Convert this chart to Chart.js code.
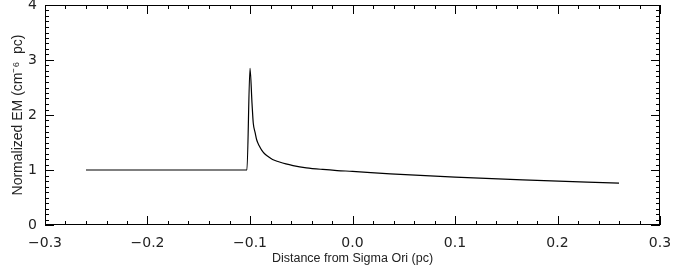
<!DOCTYPE html>
<html><head><meta charset="utf-8">
<script src="https://cdn.jsdelivr.net/npm/chart.js@4"></script>
<style>html,body{margin:0;padding:0;background:#fff}#wrap{width:673px;height:275px}</style>
</head><body><div id="wrap"><canvas id="c" width="673" height="275"></canvas></div>
<script>
const distance = [-0.26, -0.103, -0.1, -0.098, -0.0968, -0.095, -0.0935, -0.091, -0.0886, -0.086, -0.082, -0.078, -0.072, -0.065, -0.058, -0.045, -0.029, -0.015, 0.0, 0.037, 0.1, 0.166, 0.26];
const normEM   = [1.0, 1.0, 2.85, 2.2, 1.85, 1.68, 1.55, 1.44, 1.36, 1.30, 1.24, 1.19, 1.15, 1.11, 1.08, 1.04, 1.01, 0.99, 0.975, 0.93, 0.87, 0.82, 0.76];
const xTickValues = [-0.3, -0.2, -0.1, 0.0, 0.1, 0.2, 0.3];
const xTickLabels = ['\u22120.3', '\u22120.2', '\u22120.1', '0.0', '0.1', '0.2', '0.3'];
const yTickValues = [0, 1, 2, 3, 4];
const yTickLabels = ['0', '1', '2', '3', '4'];
const xTitle = 'Distance from Sigma Ori (pc)';
const yTitle = 'Normalized EM (cm\u207B\u2076  pc)';

const FONT = '"Liberation Sans", Arial, sans-serif';
const TICKFONT = '"DejaVu Sans", sans-serif';
const INK = '#222';

const framePlugin = {
  id: 'frame',
  afterDatasetsDraw(chart) {
    const {ctx, chartArea: a, scales: {x, y}} = chart;
    ctx.save();
    ctx.strokeStyle = '#000';
    ctx.lineWidth = 1;
    ctx.strokeRect(a.left + 0.5, a.top + 0.5, a.right - a.left - 1, a.bottom - a.top - 1);
    ctx.beginPath();
    for (let i = -15; i <= 15; i++) {
      const v = i * 0.02;
      const px = Math.round(x.getPixelForValue(v)) + 0.5;
      const len = (i % 5 === 0) ? 9 : 4;
      ctx.moveTo(px, a.bottom); ctx.lineTo(px, a.bottom - len);
      ctx.moveTo(px, a.top); ctx.lineTo(px, a.top + len);
    }
    for (let i = 0; i <= 40; i++) {
      const v = i * 0.1;
      const py = Math.round(y.getPixelForValue(v)) + 0.5;
      const len = (i % 10 === 0) ? 9 : 4;
      ctx.moveTo(a.left, py); ctx.lineTo(a.left + len, py);
      ctx.moveTo(a.right, py); ctx.lineTo(a.right - len, py);
    }
    ctx.stroke();
    ctx.restore();
  }
};

new Chart(document.getElementById('c'), {
  type: 'scatter',
  data: {
    datasets: [{
      data: distance.map((d, i) => ({x: d, y: normEM[i]})),
      showLine: true,
      borderColor: '#000',
      borderWidth: 1.2,
      pointRadius: 0,
      cubicInterpolationMode: 'monotone',
      fill: false
    }]
  },
  options: {
    responsive: false,
    animation: false,
    events: [],
    layout: {padding: {top: 5, right: 13, left: 7, bottom: 5}},
    plugins: {legend: {display: false}, tooltip: {enabled: false}},
    scales: {
      x: {
        type: 'linear', min: -0.3, max: 0.3,
        afterFit(s) { s.height = 45; s.paddingLeft = 0; s.paddingRight = 0; },
        afterBuildTicks(s) { s.ticks = xTickValues.map(v => ({value: v})); },
        grid: {display: false},
        border: {display: false},
        ticks: {
          autoSkip: false, maxRotation: 0, padding: 2, color: INK,
          font: {family: TICKFONT, size: 14},
          callback: (v, i) => xTickLabels[i]
        },
        title: {display: true, text: xTitle, color: INK, font: {family: FONT, size: 12.5}, padding: {top: 0, bottom: 4}}
      },
      y: {
        type: 'linear', min: 0, max: 4,
        afterFit(s) { s.width = 38; s.paddingTop = 0; s.paddingBottom = 0; },
        afterBuildTicks(s) { s.ticks = yTickValues.map(v => ({value: v})); },
        grid: {display: false},
        border: {display: false},
        ticks: {
          padding: 0, color: INK,
          font: {family: TICKFONT, size: 14},
          callback: (v, i) => yTickLabels[i]
        },
        title: {display: true, text: yTitle, color: INK, font: {family: FONT, size: 14}, padding: {top: 3, bottom: 3}}
      }
    }
  },
  plugins: [framePlugin]
});
</script>
</body></html>
